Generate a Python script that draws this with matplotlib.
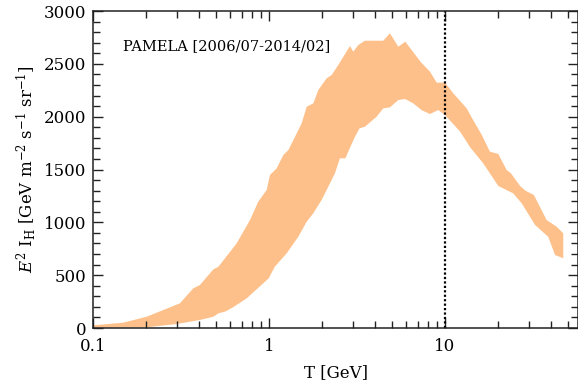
import matplotlib
matplotlib.use("Agg")
import matplotlib.pyplot as plt
from matplotlib.ticker import FixedLocator, NullFormatter, MultipleLocator, FuncFormatter

# upper edge of the PAMELA proton band: kinetic energy [GeV], E^2 I_H
T_UP = [0.1, 0.148, 0.202, 0.274, 0.312, 0.371, 0.405, 0.483, 0.516, 0.655,
        0.78, 0.869, 0.97, 1.013, 1.106, 1.206, 1.29, 1.534, 1.637, 1.786,
        1.906, 2.126, 2.27, 2.476, 2.886, 3.013, 3.217, 3.51, 4.46, 4.87,
        5.43, 5.95, 7.3, 8.22, 8.97, 10.0, 11.15, 13.28, 14.1, 16.2,
        18.0, 20.1, 22.4, 23.7, 26.7, 28.7, 32.0, 37.8, 43.1, 47.0]
E2I_UP = [25, 50, 107, 196, 234, 375, 407, 555, 580, 801,
          1022, 1195, 1306, 1448, 1511, 1637, 1685, 1937, 2094, 2126,
          2252, 2363, 2394, 2489, 2669, 2615, 2678, 2719, 2719, 2789,
          2662, 2710, 2515, 2426, 2322, 2322, 2221, 2079, 2000, 1826,
          1669, 1647, 1495, 1464, 1345, 1299, 1259, 1022, 959, 896]

# lower edge of the band
T_LO = [0.1, 0.15, 0.202, 0.299, 0.405, 0.483, 0.516, 0.563, 0.625, 0.747,
        0.996, 1.079, 1.26, 1.468, 1.637, 1.786, 1.99, 2.126, 2.37, 2.53,
        2.72, 2.82, 3.08, 3.27, 3.51, 4.09, 4.46, 4.87, 5.43, 5.95,
        6.6, 7.4, 8.22, 9.16, 10.0, 12.2, 13.9, 16.5, 20.1, 24.4,
        27.3, 32.5, 38.6, 42.2, 47.0]
E2I_LO = [3, 5, 7, 38, 76, 107, 139, 155, 196, 281,
          470, 580, 707, 864, 1006, 1086, 1211, 1306, 1464, 1606,
          1606, 1669, 1810, 1890, 1905, 2000, 2079, 2088, 2158, 2167,
          2126, 2060, 2025, 2063, 2016, 1858, 1710, 1558, 1344, 1275,
          1180, 975, 864, 691, 660]

T_REF = 10.0
LABEL = "PAMELA [2006/07-2014/02]"

plt.rcParams["font.family"] = "DejaVu Serif"
plt.rcParams["mathtext.fontset"] = "dejavuserif"

fig = plt.figure(figsize=(5.78, 3.85), dpi=100)
ax = fig.add_axes([0.1609, 0.148, 0.8391, 0.8234])

band_x = list(T_UP) + list(T_LO[::-1])
band_y = list(E2I_UP) + list(E2I_LO[::-1])
ax.fill(band_x, band_y, color="#fec08a", lw=0)

ax.axvline(T_REF, color="black", lw=1.6, linestyle=(0, (1, 1)))

ax.text(0.148, 2630, LABEL, fontsize=10.5)

ax.set_xscale("log")
ax.set_xlim(0.1, 57.0)
ax.set_ylim(0, 3000)

ax.xaxis.set_major_locator(FixedLocator([0.1, 1, 10]))
ax.xaxis.set_major_formatter(FuncFormatter(lambda v, p: f"{v:g}"))
ax.xaxis.set_minor_locator(FixedLocator(
    [m * 10.0 ** e for e in (-1, 0, 1) for m in range(2, 10)]))
ax.xaxis.set_minor_formatter(NullFormatter())
ax.yaxis.set_major_locator(MultipleLocator(500))
ax.yaxis.set_minor_locator(MultipleLocator(100))

ax.tick_params(which="both", direction="in", top=True, right=True,
               labelsize=12, color="#222222", width=1.0)
ax.tick_params(which="major", length=7.5, pad=5)
ax.tick_params(which="minor", length=5)
ax.tick_params(axis="x", which="major", pad=7)
for s in ax.spines.values():
    s.set_linewidth(1.1)
    s.set_color("#222222")

ax.set_xlabel("T [GeV]", fontsize=12, labelpad=7)
ax.set_ylabel(r"$E^2\ \mathrm{I_H}$ [GeV m$^{-2}$ s$^{-1}$ sr$^{-1}$]",
              fontsize=12, labelpad=4)

fig.savefig("out.png", dpi=100)
